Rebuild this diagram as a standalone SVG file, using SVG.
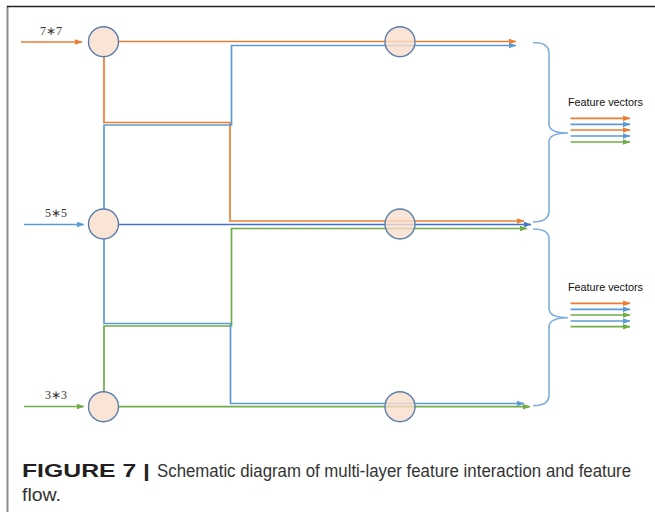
<svg xmlns="http://www.w3.org/2000/svg" width="655" height="512" viewBox="0 0 655 512">
  <style>
    .frame-left { stroke: #8a8a8a; stroke-width: 2; fill: none; }
    .frame-top { stroke: #222; stroke-width: 1.6; fill: none; }
    .node { fill: #F8DDCB; fill-opacity: 0.8; stroke: #5A7EAA; stroke-width: 1.4; }
    .wire { fill: none; stroke-width: 1.7; }
    .orange { stroke: #ED7D31; }
    .blue { stroke: #5B9BD5; }
    .dblue { stroke: #4472C4; }
    .green { stroke: #70AD47; }
    .brace { fill: none; stroke: #7EAEDD; stroke-width: 1.6; }
    .size { font-family: "Liberation Serif", serif; font-size: 12px; fill: #333; }
    .fv { font-family: "Liberation Sans", Arial, sans-serif; font-size: 10.5px; fill: #111; }
    .cap { font-family: "Liberation Sans", Arial, sans-serif; font-size: 17.5px; fill: #333; }
    .capb { font-size: 19px; font-weight: bold; fill: #231F20; }
  </style>
  <defs>
    <marker id="arr-o" markerUnits="userSpaceOnUse" markerWidth="8" markerHeight="6" refX="7.5" refY="3" orient="auto">
      <path d="M0,0 L8,3 L0,6 z" fill="#ED7D31"/>
    </marker>
    <marker id="arr-b" markerUnits="userSpaceOnUse" markerWidth="8" markerHeight="6" refX="7.5" refY="3" orient="auto">
      <path d="M0,0 L8,3 L0,6 z" fill="#5B9BD5"/>
    </marker>
    <marker id="arr-d" markerUnits="userSpaceOnUse" markerWidth="8" markerHeight="6" refX="7.5" refY="3" orient="auto">
      <path d="M0,0 L8,3 L0,6 z" fill="#4472C4"/>
    </marker>
    <marker id="arr-g" markerUnits="userSpaceOnUse" markerWidth="8" markerHeight="6" refX="7.5" refY="3" orient="auto">
      <path d="M0,0 L8,3 L0,6 z" fill="#70AD47"/>
    </marker>
  </defs>

  <rect width="655" height="512" fill="#ffffff"/>
  <!-- figure frame -->
  <path class="frame-left" d="M7.5,6 V512"/>
  <path class="frame-top" d="M7,6.5 H655"/>

  <!-- inputs -->
  <g id="input-7x7">
    <text class="size" x="40" y="35">7∗7</text>
    <path class="wire orange" d="M21,42 H82" marker-end="url(#arr-o)"/>
  </g>
  <g id="input-5x5">
    <text class="size" x="45" y="217">5∗5</text>
    <path class="wire blue" d="M24,224.5 H84" marker-end="url(#arr-b)"/>
  </g>
  <g id="input-3x3">
    <text class="size" x="45" y="399">3∗3</text>
    <path class="wire green" d="M24,406.5 H84" marker-end="url(#arr-g)"/>
  </g>

  <!-- connectors -->
  <g id="connectors">
    <path class="wire orange" d="M118,41.5 H516" marker-end="url(#arr-o)"/>
    <path class="wire orange" d="M104,57 V122.5 H230 V221 H524" marker-end="url(#arr-o)"/>
    <path class="wire blue" d="M104,209 V125 H231.5 V45.5 H516" marker-end="url(#arr-b)"/>
    <path class="wire dblue" d="M118,224.5 H531" marker-end="url(#arr-d)"/>
    <path class="wire green" d="M104,392 V326 H231.5 V228.5 H527" marker-end="url(#arr-g)"/>
    <path class="wire blue" d="M104,239 V323.5 H230.5 V403.5 H524" marker-end="url(#arr-b)"/>
    <path class="wire green" d="M118,406.7 H530" marker-end="url(#arr-g)"/>
  </g>

  <!-- feature layers (left column) -->
  <g id="layer-7x7"><circle class="node" cx="103.5" cy="41.7" r="15"/></g>
  <g id="layer-5x5"><circle class="node" cx="103.5" cy="224" r="15"/></g>
  <g id="layer-3x3"><circle class="node" cx="103.5" cy="406.7" r="15"/></g>

  <!-- interaction nodes (middle column) -->
  <g id="mix-top"><circle class="node" cx="400" cy="41.7" r="15"/></g>
  <g id="mix-mid"><circle class="node" cx="400" cy="224" r="15"/></g>
  <g id="mix-bottom"><circle class="node" cx="400" cy="406.7" r="15"/></g>

  <!-- upper feature vector group -->
  <g id="features-upper">
    <path class="brace" d="M533,42.5 Q549,42.5 549,53 V124 Q549,133 568,133 Q549,133 549,142 V211 Q549,222 533,222"/>
    <text class="fv" x="568" y="106" textLength="75" lengthAdjust="spacingAndGlyphs">Feature vectors</text>
    <path class="wire orange" d="M570.5,118.3 H630" marker-end="url(#arr-o)"/>
    <path class="wire blue" d="M570.5,124.3 H630" marker-end="url(#arr-b)"/>
    <path class="wire orange" d="M570.5,130 H630" marker-end="url(#arr-o)"/>
    <path class="wire blue" d="M570.5,136 H630" marker-end="url(#arr-b)"/>
    <path class="wire green" d="M570.5,142 H630" marker-end="url(#arr-g)"/>
  </g>

  <!-- lower feature vector group -->
  <g id="features-lower">
    <path class="brace" d="M533,229 Q549,229 549,239 V308 Q549,317.7 568,317.7 Q549,317.7 549,327 V395 Q549,405.7 533,405.7"/>
    <text class="fv" x="568" y="291" textLength="75" lengthAdjust="spacingAndGlyphs">Feature vectors</text>
    <path class="wire orange" d="M570.5,303.3 H630" marker-end="url(#arr-o)"/>
    <path class="wire blue" d="M570.5,309.3 H630" marker-end="url(#arr-b)"/>
    <path class="wire green" d="M570.5,315 H630" marker-end="url(#arr-g)"/>
    <path class="wire blue" d="M570.5,321 H630" marker-end="url(#arr-b)"/>
    <path class="wire green" d="M570.5,326.7 H630" marker-end="url(#arr-g)"/>
  </g>

  <!-- caption -->
  <text class="cap capb" x="22" y="477" textLength="128" lengthAdjust="spacingAndGlyphs">FIGURE 7 |</text>
  <text class="cap" x="157" y="477" textLength="474" lengthAdjust="spacingAndGlyphs">Schematic diagram of multi-layer feature interaction and feature</text>
  <text class="cap" x="22" y="501" textLength="39" lengthAdjust="spacingAndGlyphs">flow.</text>
</svg>
